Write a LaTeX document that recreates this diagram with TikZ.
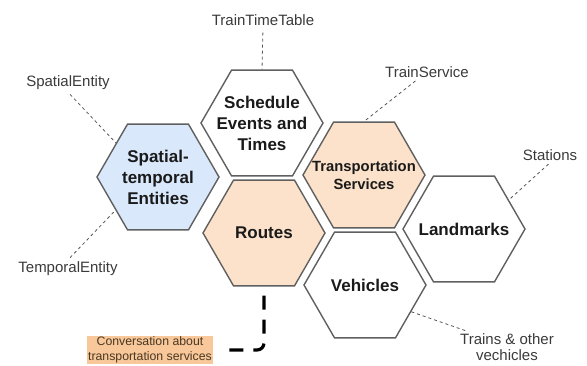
\documentclass[tikz,border=0pt]{standalone}
\usepackage{fontspec}
\setmainfont{Liberation Sans}
\usetikzlibrary{shapes.geometric}
\definecolor{hexline}{HTML}{606060}
\definecolor{txtdark}{HTML}{1A1A1A}
\definecolor{lbltxt}{HTML}{3A3A3A}
\definecolor{conn}{HTML}{555555}
\definecolor{bluefill}{HTML}{DAE8FC}
\definecolor{orangefill}{HTML}{FCE2CA}
\definecolor{convfill}{HTML}{F8C79A}
\definecolor{convtxt}{HTML}{4A3822}
\begin{document}
\begin{tikzpicture}[x=1pt,y=-1pt,
  hexa/.style={regular polygon, regular polygon sides=6, minimum size=122pt, inner sep=0pt,
    draw=hexline, line width=1.4pt, fill=white},
  hextxt/.style={align=center, inner sep=0pt, font=\fontsize{17}{21}\selectfont\bfseries, text=txtdark},
  lbl/.style={font=\fontsize{15}{16}\selectfont, text=lbltxt, inner sep=2pt, align=center},
  con/.style={draw=conn, dashed, line width=0.8pt}]
\useasboundingbox (0,0) rectangle (587,365);

% hexagons
\node[hexa] (sched) at (262,123) {};
\node[hexa, fill=bluefill] (spatial) at (158,177) {};
\node[hexa, fill=orangefill] (routes) at (264,233) {};
\node[hexa, fill=orangefill] (trans) at (364,175) {};
\node[hexa] (land) at (464,229) {};
\node[hexa] (veh) at (365,285) {};

\node[hextxt] (schedt) at (sched) {Schedule\\Events and\\Times};
\node[hextxt] (spatialt) at (spatial) {Spatial-\\temporal\\Entities};
\node[hextxt] (routest) at (routes) {Routes};
\node[hextxt, font=\fontsize{14.8}{18}\selectfont\bfseries] (transt) at (trans) {Transportation\\Services};
\node[hextxt] (landt) at (land) {Landmarks};
\node[hextxt] (veht) at (veh) {Vehicles};

% labels
\node[lbl] (ttt) at (263,20) {TrainTimeTable};
\node[lbl] (se) at (68,83) {SpatialEntity};
\node[lbl] (te) at (68,269) {TemporalEntity};
\node[lbl] (ts) at (427,72) {TrainService};
\node[lbl] (st) at (550,155) {Stations};
\node[lbl, font=\fontsize{15}{15.5}\selectfont] (tv) at (507,347) {Trains \& other\\vechicles};
\node[font=\fontsize{12.3}{14.5}\selectfont, text=convtxt, fill=convfill, inner sep=1pt, align=center]
  (conv) at (150,350) {Conversation about\\transportation services};

% connectors
\draw[con, shorten <=5pt] (ttt.south) -- (sched.90);
\draw[con, shorten <=3pt] (se.south) -- (spatial.141);
\draw[con, shorten <=3pt] (te.north) -- (spatial.218);
\draw[con, shorten <=2pt] ([xshift=-10pt]ts.south) -- (trans.90);
\draw[con, shorten <=2pt] (st.south) -- (land.33);
\draw[con] (veh.-30) -- ([xshift=10pt]tv.north west);
\draw[line width=3.2pt, dash pattern=on 14pt off 10pt, rounded corners=7pt]
  ([yshift=-9pt]routes.270) |- ([xshift=9pt]conv.east);
\end{tikzpicture}
\end{document}
